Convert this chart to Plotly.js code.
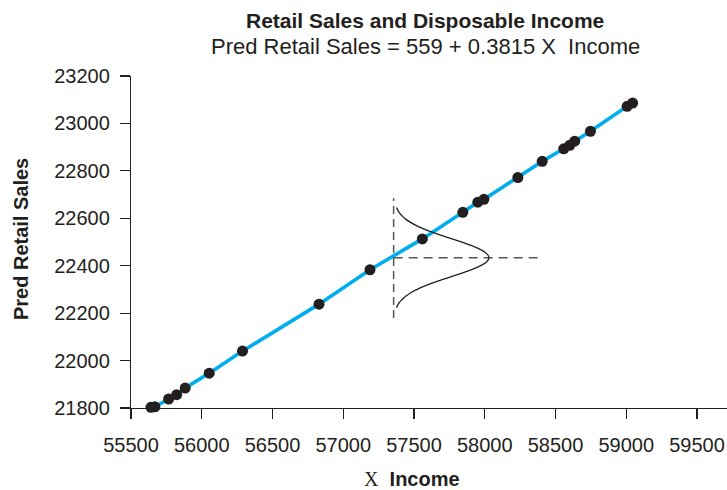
<!DOCTYPE html>
<html>
<head>
<meta charset="utf-8">
<script src="https://cdn.plot.ly/plotly-3.0.1.min.js"></script>
<style>
  html, body { margin: 0; padding: 0; background: #ffffff; }
  #chart { width: 727px; height: 490px; }
</style>
</head>
<body>
<div id="chart"></div>
<script>
// ---- Data ----
const incomeX = [55641, 55669, 55766, 55823, 55883, 56053, 56288, 56829, 57189, 57559,
                 57845, 57951, 57994, 58234, 58406, 58558, 58601, 58636, 58747, 59006, 59045];
const predRetailSales = [21803, 21805, 21838, 21856, 21884, 21947, 22040, 22238, 22383, 22513,
                         22625, 22668, 22680, 22772, 22840, 22893, 22908, 22925, 22967, 23072, 23086];

const xTickVals = [55500, 56000, 56500, 57000, 57500, 58000, 58500, 59000, 59500];
const yTickVals = [21800, 22000, 22200, 22400, 22600, 22800, 23000, 23200];

// Normal-curve illustration
const bellBaseX = 57356;        // income where the curve sits
const bellCenterY = 22434;      // predicted sales at that income
const bellPeakX = 58029;        // income reached at the curve's peak
const bellSigma = 80;           // spread in sales units
const bellHalfSpan = 211;       // curve drawn from centre - span to centre + span
const bellVertY = [22180, 22685];      // vertical dashed line extent
const bellHorizX = [57356, 58380];     // horizontal dashed line extent

const chartTitle = 'Retail Sales and Disposable Income';
const chartSubtitle = 'Pred Retail Sales = 559 + 0.3815 X  Income';

// ---- Build the curve ----
const curveY = [], curveX = [];
const steps = 80;
for (let i = 0; i <= steps; i++) {
  const y = bellCenterY - bellHalfSpan + (2 * bellHalfSpan) * i / steps;
  const z = (y - bellCenterY) / bellSigma;
  curveY.push(y);
  curveX.push(bellBaseX + (bellPeakX - bellBaseX) * Math.exp(-0.5 * z * z));
}

const ink = '#231f20';
const font = 'Liberation Sans, Arial, Helvetica, sans-serif';

const traces = [
  {
    x: incomeX, y: predRetailSales, type: 'scatter', mode: 'lines',
    line: { color: '#00aeef', width: 3.6 }, hoverinfo: 'skip', cliponaxis: false
  },
  {
    x: [bellBaseX, bellBaseX], y: bellVertY, type: 'scatter', mode: 'lines',
    line: { color: '#555555', width: 1.5, dash: '8px,5px' }, hoverinfo: 'skip'
  },
  {
    x: bellHorizX, y: [bellCenterY, bellCenterY], type: 'scatter', mode: 'lines',
    line: { color: '#555555', width: 1.5, dash: '9px,6px' }, hoverinfo: 'skip'
  },
  {
    x: curveX, y: curveY, type: 'scatter', mode: 'lines',
    line: { color: ink, width: 1.3, shape: 'spline' }, hoverinfo: 'skip'
  },
  {
    x: incomeX, y: predRetailSales, type: 'scatter', mode: 'markers',
    marker: { color: ink, size: 11 }, cliponaxis: false
  }
];

const axisCommon = {
  showgrid: false, zeroline: false, showline: true,
  linecolor: ink, linewidth: 1.2,
  ticks: 'outside', ticklen: 10, tickwidth: 1.2, tickcolor: ink,
  tickfont: { family: font, size: 20, color: ink },
  fixedrange: true
};

const layout = {
  width: 727, height: 490,
  margin: { l: 131, r: 0, t: 76, b: 82, pad: 0 },
  paper_bgcolor: '#ffffff', plot_bgcolor: '#ffffff',
  showlegend: false,
  font: { family: font, color: ink },
  xaxis: Object.assign({}, axisCommon, {
    range: [55500, 59712],
    tickmode: 'array', tickvals: xTickVals, ticktext: xTickVals.map(String),
    ticklabelstandoff: 9
  }),
  yaxis: Object.assign({}, axisCommon, {
    range: [21800, 23200],
    tickmode: 'array', tickvals: yTickVals, ticktext: yTickVals.map(String),
    ticklabelstandoff: 6
  }),
  annotations: [
    {
      text: '<b>' + chartTitle + '</b>', xref: 'paper', yref: 'paper',
      x: 0.4935, y: 1.1676, xanchor: 'center', yanchor: 'middle', showarrow: false,
      font: { family: font, size: 21, color: ink }
    },
    {
      text: chartSubtitle, xref: 'paper', yref: 'paper',
      x: 0.4935, y: 1.0893, xanchor: 'center', yanchor: 'middle', showarrow: false,
      font: { family: font, size: 22, color: ink }
    },
    {
      text: '<span style="font-family:Liberation Serif, Times New Roman, serif">X</span>  <b>Income</b>',
      xref: 'paper', yref: 'paper',
      x: 0.471, y: -0.2126, xanchor: 'center', yanchor: 'middle', showarrow: false,
      font: { family: font, size: 20, color: ink }
    },
    {
      text: '<b>Pred Retail Sales</b>', xref: 'paper', yref: 'paper', textangle: -90,
      x: -0.1856, y: 0.51, xanchor: 'center', yanchor: 'middle', showarrow: false,
      font: { family: font, size: 20, color: ink }
    }
  ]
};

Plotly.newPlot('chart', traces, layout, { staticPlot: true, displayModeBar: false });
</script>
</body>
</html>
